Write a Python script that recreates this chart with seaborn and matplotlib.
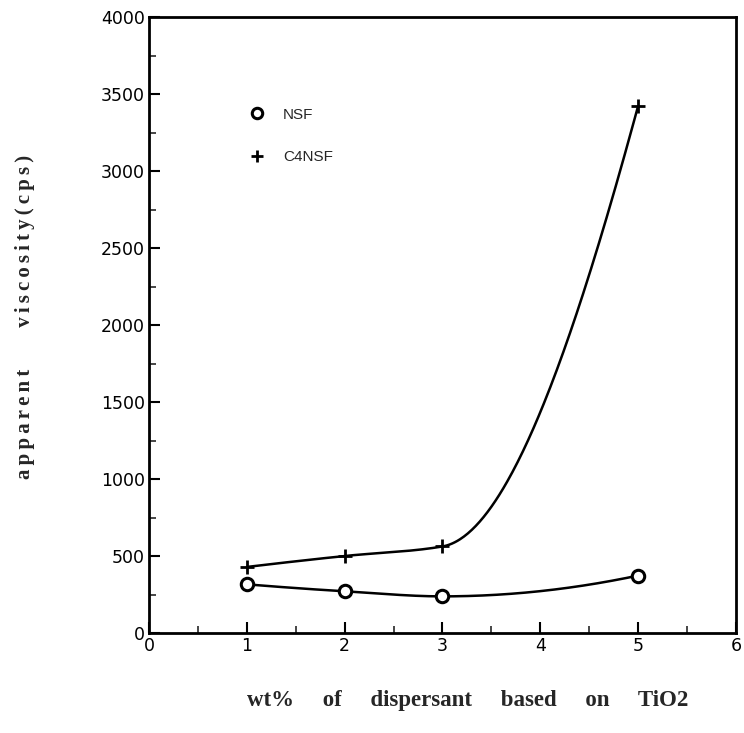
import numpy as np
import pandas as pd
import seaborn as sns
import matplotlib
matplotlib.use("Agg")
import matplotlib.pyplot as plt
from matplotlib.lines import Line2D
from matplotlib.ticker import MultipleLocator

# ---- data ----
wt_pct = [1, 2, 3, 5]
nsf = [316, 271, 238, 373]
c4nsf = [429, 500, 562, 3420]
series_names = ["NSF", "C4NSF"]
x_ticks = [0, 1, 2, 3, 4, 5, 6]
y_ticks = [0, 500, 1000, 1500, 2000, 2500, 3000, 3500, 4000]


def pchip(x, y, xs):
    """Monotone piecewise cubic Hermite interpolation (Fritsch-Carlson)."""
    x = np.asarray(x, float)
    y = np.asarray(y, float)
    h = np.diff(x)
    d = np.diff(y) / h
    n = len(x)
    m = np.zeros(n)
    for k in range(1, n - 1):
        if d[k - 1] * d[k] <= 0:
            m[k] = 0.0
        else:
            w1 = 2 * h[k] + h[k - 1]
            w2 = h[k] + 2 * h[k - 1]
            m[k] = (w1 + w2) / (w1 / d[k - 1] + w2 / d[k])

    def end(h0, h1, d0, d1):
        s = ((2 * h0 + h1) * d0 - h0 * d1) / (h0 + h1)
        if np.sign(s) != np.sign(d0):
            s = 0.0
        elif np.sign(d0) != np.sign(d1) and abs(s) > abs(3 * d0):
            s = 3 * d0
        return s

    m[0] = end(h[0], h[1], d[0], d[1])
    m[-1] = end(h[-1], h[-2], d[-1], d[-2])
    xs = np.asarray(xs, float)
    idx = np.clip(np.searchsorted(x, xs) - 1, 0, n - 2)
    t = (xs - x[idx]) / h[idx]
    h00 = 2 * t**3 - 3 * t**2 + 1
    h10 = t**3 - 2 * t**2 + t
    h01 = -2 * t**3 + 3 * t**2
    h11 = t**3 - t**2
    return (h00 * y[idx] + h10 * h[idx] * m[idx]
            + h01 * y[idx + 1] + h11 * h[idx] * m[idx + 1])


sns.set_theme(style="ticks")
plt.rcParams["font.family"] = ["DejaVu Sans"]

fig = plt.figure(figsize=(7.44, 7.33), dpi=100)
ax = fig.add_axes([0.2003, 0.1364, 0.7887, 0.8404])

pts = pd.DataFrame({
    "wt": wt_pct * 2,
    "visc": nsf + c4nsf,
    "series": [series_names[0]] * 4 + [series_names[1]] * 4,
})

xs = np.linspace(min(wt_pct), max(wt_pct), 300)
curves = pd.DataFrame({
    "wt": np.concatenate([xs, xs]),
    "visc": np.concatenate([pchip(wt_pct, nsf, xs), pchip(wt_pct, c4nsf, xs)]),
    "series": [series_names[0]] * len(xs) + [series_names[1]] * len(xs),
})

sns.lineplot(data=curves, x="wt", y="visc", units="series", estimator=None,
             color="black", lw=1.8, ax=ax, legend=False, sort=False)

d_nsf = pts[pts.series == "NSF"]
d_c4 = pts[pts.series == "C4NSF"]
sns.scatterplot(data=d_nsf, x="wt", y="visc", marker="o", s=80,
                facecolor="white", edgecolor="black", linewidth=2.2,
                ax=ax, legend=False, zorder=5)
sns.scatterplot(data=d_c4, x="wt", y="visc", marker="+", s=100,
                color="black", linewidth=2.0, ax=ax, legend=False, zorder=5)

ax.set_xlim(0, 6)
ax.set_ylim(0, 4000)
ax.set_xticks(x_ticks)
ax.set_yticks(y_ticks)
ax.xaxis.set_minor_locator(MultipleLocator(0.5))
ax.yaxis.set_minor_locator(MultipleLocator(250))
ax.tick_params(which="major", direction="in", length=8, width=1.5,
               labelsize=12.5, colors="black", pad=3)
ax.tick_params(which="minor", direction="in", length=5, width=1.2)
for sp in ax.spines.values():
    sp.set_visible(True)
    sp.set_linewidth(2.0)
    sp.set_color("black")
ax.set_xlabel("")
ax.set_ylabel("")

handles = [
    Line2D([], [], marker="o", ls="none", markersize=7.5, markerfacecolor="white",
           markeredgecolor="black", markeredgewidth=2.2),
    Line2D([], [], marker="+", ls="none", markersize=8, color="black",
           markeredgewidth=2.0),
]
ax.legend(handles, series_names, frameon=False, loc="upper left",
          bbox_to_anchor=(0.135, 0.875), labelspacing=1.85, handletextpad=0.7,
          prop={"family": "Liberation Sans", "size": 11})

serif = {"family": ["Liberation Serif", "DejaVu Serif"], "weight": "bold",
         "size": 16.5}
fig.text(0.629, 0.045, "wt%     of     dispersant     based     on     TiO2",
         ha="center", va="center", fontdict=serif)

ts = "\u2009"
ylab = ts.join("apparent") + " " * 8 + ts.join("viscosity(cps)")
serif_y = dict(serif, size=15)
fig.text(0.034, 0.567, ylab, ha="center", va="center",
         rotation=90, fontdict=serif_y)

fig.savefig("out.png", dpi=100, facecolor="white")
